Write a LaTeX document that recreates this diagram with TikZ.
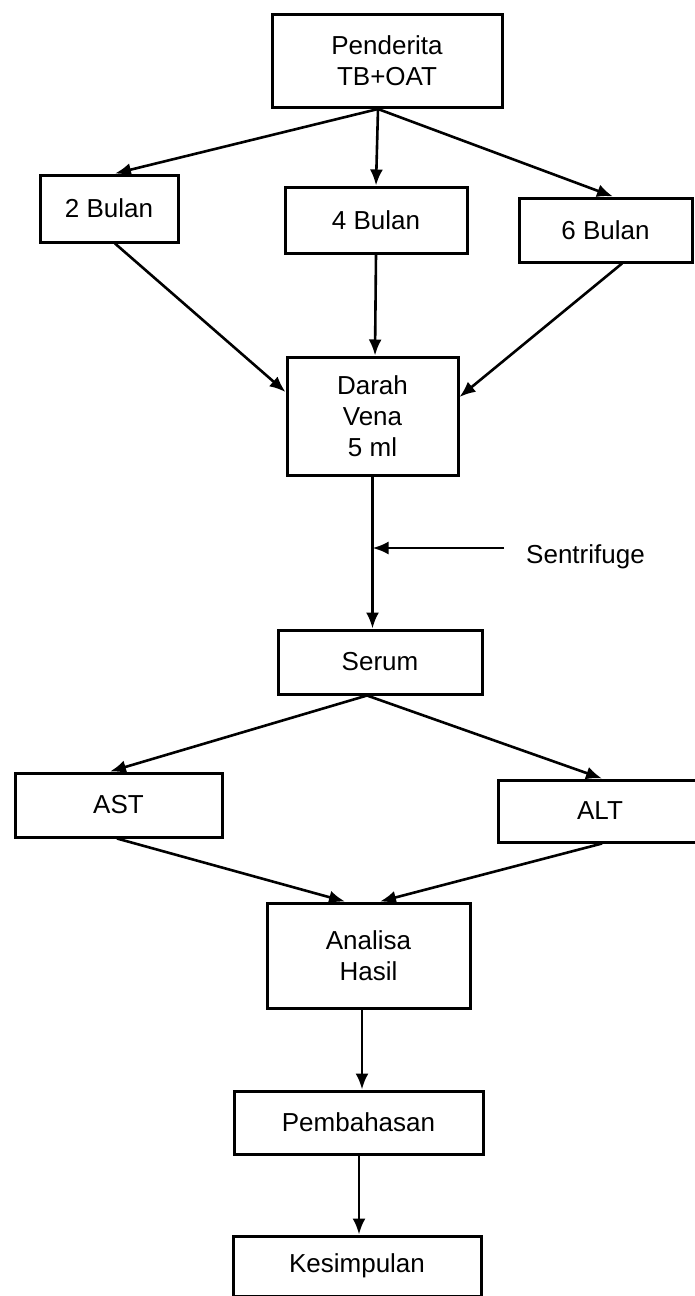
\documentclass[tikz,border=0pt]{standalone}
\usepackage{fontspec}
\setmainfont{Liberation Sans}
\usetikzlibrary{arrows.meta}
\begin{document}
\begin{tikzpicture}[x=1pt,y=-1pt,
  box/.style={draw,line width=3pt,rectangle,inner sep=0pt,align=center,
    font=\fontsize{26}{31}\selectfont},
  conn/.style={line width=2.6pt,-{Latex[length=16pt,width=13pt]}}]
\useasboundingbox (0,0) rectangle (694,1296);
\node[box,minimum width=230pt,minimum height=93pt] (pend) at (387,61) {Penderita\\TB+OAT};
\node[box,minimum width=138pt,minimum height=67pt] (b2) at (109,208.5) {2 Bulan};
\node[box,minimum width=182pt,minimum height=66pt] (b4) at (376,220) {4 Bulan};
\node[box,minimum width=173pt,minimum height=64pt] (b6) at (605.5,230) {6 Bulan};
\node[box,minimum width=171pt,minimum height=118pt] (darah) at (372.5,416) {Darah\\Vena\\5 ml};
\node[box,minimum width=204pt,minimum height=64pt] (serum) at (380,662) {Serum};
\node[box,minimum width=207pt,minimum height=64pt] (ast) at (118.5,805) {AST};
\node[box,minimum width=204pt,minimum height=62pt] (alt) at (600,811) {ALT};
\node[box,minimum width=203pt,minimum height=105pt] (analisa) at (368.5,955.5) {Analisa\\Hasil};
\node[box,minimum width=249pt,minimum height=63pt] (pemb) at (358.5,1122.5) {Pembahasan};
\node[box,minimum width=248pt,minimum height=60pt] (kes) at (357,1266) {Kesimpulan};
\node[font=\fontsize{26}{31}\selectfont,anchor=west,inner sep=0pt] (sentlbl) at (526,557) {Sentrifuge};
\coordinate (sent) at (504,548);

\draw[conn] ([xshift=-9pt]pend.south) -- ([xshift=6pt]b2.north);
\draw[conn] ([xshift=-9pt]pend.south) -- (b4.north);
\draw[conn] ([xshift=-9pt]pend.south) -- ([xshift=7.5pt]b6.north);
\draw[conn] ([xshift=6pt]b2.south) -- ([yshift=24pt]darah.west);
\draw[conn] (b4.south) -- ([xshift=2.5pt]darah.north);
\draw[conn] ([xshift=16.5pt]b6.south) -- ([yshift=19pt]darah.east);
\draw[conn] (darah.south) -- ([xshift=-7.5pt]serum.north);
\draw[conn] (sent) -- (darah.south |- sent);
\draw[conn] ([xshift=-13pt]serum.south) -- ([xshift=-8.5pt]ast.north);
\draw[conn] ([xshift=-13pt]serum.south) -- ([xshift=2pt]alt.north);
\draw[conn] ([xshift=-1.5pt]ast.south) -- ([xshift=-23.5pt]analisa.north);
\draw[conn] ([xshift=2pt]alt.south) -- ([xshift=11.5pt]analisa.north);
\draw[conn] ([xshift=-6.5pt]analisa.south) -- ([xshift=3.5pt]pemb.north);
\draw[conn] ([xshift=0.5pt]pemb.south) -- ([xshift=2pt]kes.north);
\end{tikzpicture}
\end{document}
